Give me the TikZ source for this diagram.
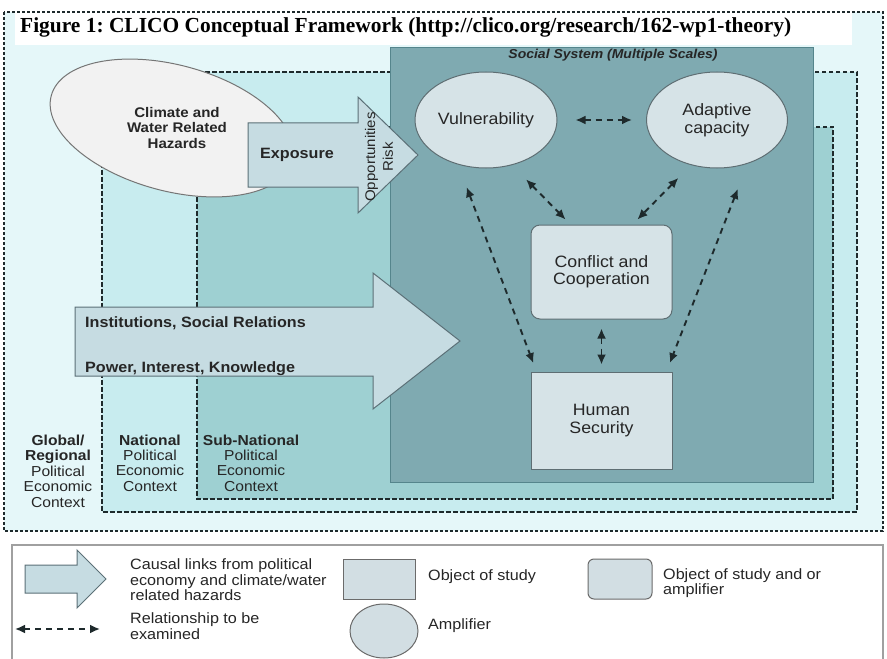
\documentclass[tikz,border=0pt]{standalone}
\usepackage{fontspec}
\setmainfont{Liberation Sans}[FakeStretch=1.08]
\newfontfamily\titlefont{Liberation Serif}
\usetikzlibrary{arrows.meta,shapes.geometric}
\frenchspacing
\definecolor{outerc}{HTML}{E5F7F9}
\definecolor{natc}{HTML}{C8ECEF}
\definecolor{subc}{HTML}{9ED0D2}
\definecolor{socc}{HTML}{7FAAB1}
\definecolor{socb}{HTML}{55858C}
\definecolor{objc}{HTML}{D6E3E7}
\definecolor{objb}{HTML}{5E6E73}
\definecolor{arrc}{HTML}{C6DCE2}
\definecolor{arrb}{HTML}{5B7077}
\definecolor{hazc}{HTML}{F2F2F2}
\definecolor{hazb}{HTML}{757575}
\definecolor{txt}{HTML}{262626}
\definecolor{dsh}{HTML}{1E2A2C}
\definecolor{legb}{HTML}{A0A0A0}
\definecolor{legc}{HTML}{D2DEE3}
\definecolor{legd}{HTML}{6B6B6B}
\tikzset{
  outerbox/.style={draw=dsh, line width=2bp, dash pattern=on 3bp off 2bp},
  ctxbox/.style={draw=dsh, line width=1.8bp, dash pattern=on 4.5bp off 2.5bp},
  obj/.style={draw=objb, fill=objc, line width=1bp, text=txt, align=center, inner sep=0pt,
    font=\fontsize{16.5}{17.5}\selectfont},
  bigarrow/.style={draw=arrb, fill=arrc, line width=1bp},
  rel/.style={draw=dsh, line width=1.9bp, dash pattern=on 6bp off 5bp,
    {Latex[length=10bp,width=9bp]}-{Latex[length=10bp,width=9bp]}},
  boldlab/.style={text=txt, inner sep=0pt, font=\bfseries\fontsize{15}{17}\selectfont},
  ctxlab/.style={text=txt, inner sep=0pt, align=center, font=\fontsize{14.5}{15.5}\selectfont},
  legtxt/.style={text=txt, inner sep=0pt, align=left, anchor=west, font=\fontsize{15}{15.5}\selectfont},
  legshape/.style={draw=legd, fill=legc, line width=1bp, inner sep=0pt},
}
\begin{document}
\begin{tikzpicture}[x=1bp,y=-1bp]
\useasboundingbox (0,0) rectangle (887,659);
% context boxes
\fill[outerc] (4,12) rectangle (883,531);
\fill[white] (15,12) rectangle (852,45);
\draw[outerbox] (4,12) rectangle (883,531);
\draw[ctxbox, fill=natc] (102,72) rectangle (857,512);
\draw[ctxbox, fill=subc] (197,127) rectangle (833,499);
% social system
\draw[fill=socc, draw=socb, line width=1bp] (390,48) rectangle (813,482);
\node[text=txt, inner sep=0pt, font=\bfseries\itshape\fontsize{13}{15}\selectfont] (soc) at (613,55) {Social System (Multiple Scales)};
% title
\node[anchor=base west, inner sep=0pt, text=black, font={\titlefont\bfseries\fontsize{21.5}{24}\selectfont}] (title) at (20,33) {Figure 1: CLICO Conceptual Framework (http://clico.org/research/162-wp1-theory)};
% hazards
\node[draw=hazb, fill=hazc, line width=1bp, ellipse, minimum width=250bp, minimum height=126bp, inner sep=0pt, rotate=-15] (haz) at (172,128) {};
\node[text=txt, align=center, inner sep=0pt, font=\bfseries\fontsize{14}{15.5}\selectfont] (hazt) at (177,128) {Climate and\\Water Related\\Hazards};
% exposure arrow
\draw[bigarrow] (248,123) -- (358,123) -- (358,97) -- (418,155) -- (358,213) -- (358,187) -- (248,187) -- cycle;
\node[boldlab] (expo) at (297,155) {Exposure};
\node[text=txt, inner sep=0pt, align=center, rotate=90, font=\fontsize{14}{18}\selectfont] (opp) at (379,157) {Opportunities\\Risk};
% big arrow
\draw[bigarrow] (75,307) -- (373,307) -- (373,273) -- (460,341) -- (373,409) -- (373,376) -- (75,376) -- cycle;
\node[boldlab, anchor=base west] (inst) at (85,327) {Institutions, Social Relations};
\node[boldlab, anchor=base west] (pow) at (85,372) {Power, Interest, Knowledge};
% context labels
\node[ctxlab] (glob) at (58,471) {\textbf{Global/}\\\textbf{Regional}\\Political\\Economic\\Context};
\node[ctxlab] (nat) at (150,463) {\textbf{National}\\Political\\Economic\\Context};
\node[ctxlab] (sub) at (251,463) {\textbf{Sub-National}\\Political\\Economic\\Context};
% objects
\node[obj, ellipse, minimum width=142bp, minimum height=96bp] (vul) at (486,120) {Vulnerability};
\node[obj, ellipse, minimum width=141bp, minimum height=96bp, font=\fontsize{16.5}{18}\selectfont] (ada) at (717,120) {Adaptive\\capacity};
\node[obj, rounded corners=9bp, minimum width=141bp, minimum height=94bp] (con) at (601.5,272) {Conflict and\\Cooperation};
\node[obj, minimum width=141bp, minimum height=97bp] (hum) at (601.5,420.5) {Human\\Security};
% relations
\draw[rel, shorten <=18bp, shorten >=14bp] (vul.east) -- (ada.west);
\draw[rel, shorten <=20bp, shorten >=7bp] (vul.300) -- ([xshift=-31bp]con.north);
\draw[rel, shorten <=18bp, shorten >=7bp] (ada.240) -- ([xshift=31bp]con.north);
\draw[rel, shorten <=24bp, shorten >=9bp] (vul.238) -- ([xshift=6bp]hum.north west);
\draw[rel, shorten <=27bp, shorten >=9bp] (ada.305) -- ([xshift=-6bp]hum.north east);
\draw[rel, shorten <=9bp, shorten >=7bp] (con.south) -- (hum.north);
% legend
\draw[draw=legb, line width=1.2bp, fill=white] (12,545) rectangle (883,662);
\draw[bigarrow] (25,565) -- (77,565) -- (77,550) -- (106,579) -- (77,608) -- (77,593) -- (25,593) -- cycle;
\node[legtxt] (l1) at (130,580) {Causal links from political\\economy and climate/water\\related hazards};
\coordinate (la) at (15,629);
\coordinate (lb) at (100,629);
\draw[rel] (la) -- (lb);
\node[legtxt] (l2) at (130,626) {Relationship to be\\examined};
\node[legshape, minimum width=72bp, minimum height=40bp] (lsq) at (379,579) {};
\node[legtxt] (l3) at (428,577) {Object of study};
\node[legshape, ellipse, minimum width=68bp, minimum height=54bp] (lcirc) at (384,631) {};
\node[legtxt] (l4) at (428,626) {Amplifier};
\node[legshape, rounded corners=6bp, minimum width=64bp, minimum height=40bp] (lrr) at (620,579) {};
\node[legtxt] (l5) at (663,583) {Object of study and or\\amplifier};
\end{tikzpicture}
\end{document}
